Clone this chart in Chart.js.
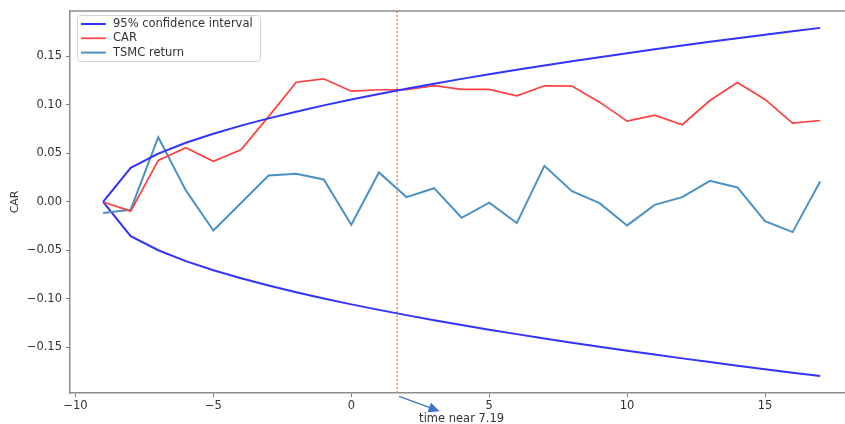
<!DOCTYPE html>
<html>
<head>
<meta charset="utf-8">
<script src="https://cdn.jsdelivr.net/npm/chart.js@4/dist/chart.umd.min.js"></script>
<style>
  html, body { margin: 0; padding: 0; background: #fff; }
  canvas { display: block; }
</style>
</head>
<body>
<canvas id="carChart" width="845" height="424"></canvas>
<script>
// event days
var days = [-9, -8, -7, -6, -5, -4, -3, -2, -1, 0, 1, 2, 3, 4, 5, 6, 7, 8, 9, 10, 11, 12, 13, 14, 15, 16, 17];
// 95% confidence band (upper, lower is the mirror)
var ciUpper = [0, 0.0352, 0.0498, 0.0610, 0.0704, 0.0787, 0.0862, 0.0931, 0.0996, 0.1056, 0.1113, 0.1167, 0.1219, 0.1269,
               0.1317, 0.1363, 0.1408, 0.1451, 0.1493, 0.1534, 0.1574, 0.1613, 0.1651, 0.1688, 0.1724, 0.1760, 0.1795];
var ciLower = [0, -0.0352, -0.0498, -0.0610, -0.0704, -0.0787, -0.0862, -0.0931, -0.0996, -0.1056, -0.1113, -0.1167, -0.1219, -0.1269,
               -0.1317, -0.1363, -0.1408, -0.1451, -0.1493, -0.1534, -0.1574, -0.1613, -0.1651, -0.1688, -0.1724, -0.1760, -0.1795];
// cumulative abnormal return
var car = [0, -0.0095, 0.0428, 0.0559, 0.042, 0.0538, 0.088, 0.1235, 0.127, 0.1142, 0.1157, 0.1157, 0.120, 0.116,
           0.116, 0.1095, 0.1198, 0.1195, 0.1029, 0.0833, 0.0895, 0.0796, 0.1046, 0.1232, 0.1057, 0.0812, 0.084];
// TSMC daily return
var tsmc = [-0.0115, -0.008, 0.0668, 0.0119, -0.0294, -0.001, 0.0273, 0.029, 0.0232, -0.0235, 0.0304, 0.005, 0.0142, -0.0163,
            -0.0008, -0.0218, 0.0373, 0.0111, -0.0012, -0.0242, -0.003, 0.005, 0.0218, 0.015, -0.0198, -0.0311, 0.0211];
// event marker
var eventDay = 1.66;
var yLimits = [-0.197, 0.197];
var xLimits = [-10.2, 17.9];

function pts(ys) {
  return days.map(function (d, i) { return { x: d, y: ys[i] }; });
}

function fmt(v, dec) {
  var s = dec ? v.toFixed(dec) : String(Math.round(v));
  if (parseFloat(s) === 0) s = dec ? (0).toFixed(dec) : '0';
  return s.replace('-', '\u2212');
}

var FONT = "'DejaVu Sans', sans-serif";
var TXT = '#333';

// legend, top border, axis label, annotation
var extras = {
  id: 'extras',
  afterDraw: function (chart) {
    var c = chart.ctx, a = chart.chartArea;
    var xs = chart.scales.x, ys = chart.scales.y;
    c.save();
    // top spine
    c.strokeStyle = '#8c8c8c';
    c.lineWidth = 1.5;
    c.beginPath();
    c.moveTo(a.left, a.top);
    c.lineTo(a.right, a.top);
    c.stroke();

    // legend box
    c.fillStyle = 'rgba(255,255,255,0.85)';
    c.strokeStyle = '#d4d4d4';
    c.lineWidth = 1;
    c.beginPath();
    c.roundRect(77.5, 15.5, 183, 46, 3);
    c.fill();
    c.stroke();
    var items = chart.data.datasets.filter(function (d) { return d.inLegend; });
    c.font = '11.5px ' + FONT;
    c.textBaseline = 'middle';
    c.textAlign = 'left';
    items.forEach(function (d, i) {
      var y = 24 + i * 14.3;
      c.strokeStyle = d.borderColor;
      c.lineWidth = d.borderWidth;
      c.beginPath();
      c.moveTo(81, y);
      c.lineTo(106, y);
      c.stroke();
      c.fillStyle = TXT;
      c.fillText(d.label, 113, y);
    });

    // y axis title
    c.save();
    c.translate(15, (a.top + a.bottom) / 2);
    c.rotate(-Math.PI / 2);
    c.textAlign = 'center';
    c.fillStyle = TXT;
    c.font = '11px ' + FONT;
    c.fillText('CAR', 0, 0);
    c.restore();

    // annotation arrow
    var x0 = xs.getPixelForValue(eventDay) + 2, y0 = ys.getPixelForValue(-0.2005);
    var x1 = xs.getPixelForValue(3.2), y1 = ys.getPixelForValue(-0.2158);
    var ang = Math.atan2(y1 - y0, x1 - x0);
    c.strokeStyle = '#3f72c8';
    c.fillStyle = '#3f72c8';
    c.lineWidth = 1.3;
    c.beginPath();
    c.moveTo(x0, y0);
    c.lineTo(x1 - 8 * Math.cos(ang), y1 - 8 * Math.sin(ang));
    c.stroke();
    c.beginPath();
    c.moveTo(x1, y1);
    c.lineTo(x1 - 11 * Math.cos(ang) + 5 * Math.sin(ang), y1 - 11 * Math.sin(ang) - 5 * Math.cos(ang));
    c.lineTo(x1 - 11 * Math.cos(ang) - 5 * Math.sin(ang), y1 - 11 * Math.sin(ang) + 5 * Math.cos(ang));
    c.closePath();
    c.fill();
    c.fillStyle = TXT;
    c.textAlign = 'center';
    c.textBaseline = 'middle';
    c.font = '11.5px ' + FONT;
    c.fillText('time near 7.19', xs.getPixelForValue(4.0), ys.getPixelForValue(-0.2235));
    c.restore();
  }
};

new Chart(document.getElementById('carChart'), {
  type: 'line',
  data: {
    datasets: [
      { label: '95% confidence interval', data: pts(ciUpper), borderColor: '#3333ff', borderWidth: 2, inLegend: true },
      { label: 'CAR', data: pts(car), borderColor: '#ff3f3f', borderWidth: 1.7, inLegend: true },
      { label: 'TSMC return', data: pts(tsmc), borderColor: '#4a92c6', borderWidth: 2, inLegend: true },
      { label: 'lower', data: pts(ciLower), borderColor: '#3333ff', borderWidth: 2 },
      { label: 'event', data: [{ x: eventDay, y: yLimits[0] }, { x: eventDay, y: yLimits[1] }],
        borderColor: '#f0873a', borderWidth: 1.5, borderDash: [2, 2] }
    ]
  },
  options: {
    responsive: false,
    animation: false,
    events: [],
    elements: { point: { radius: 0 }, line: { tension: 0 } },
    layout: { padding: { top: 10, left: 0, right: 0, bottom: 0 } },
    plugins: { legend: { display: false }, tooltip: { enabled: false } },
    scales: {
      x: {
        type: 'linear',
        min: xLimits[0],
        max: xLimits[1],
        afterFit: function (s) { s.height = 31; },
        border: { display: true, color: '#8c8c8c', width: 1.5 },
        grid: { drawOnChartArea: false, drawTicks: true, tickLength: 4, color: '#777' },
        ticks: {
          stepSize: 5, includeBounds: false, maxRotation: 0, padding: 2,
          color: TXT, font: { family: FONT, size: 11.5 },
          callback: function (v) { return fmt(v, 0); }
        }
      },
      y: {
        min: yLimits[0],
        max: yLimits[1],
        afterFit: function (s) { s.width = 70; },
        border: { display: true, color: '#8c8c8c', width: 1.5 },
        grid: { drawOnChartArea: false, drawTicks: true, tickLength: 4, color: '#777' },
        ticks: {
          stepSize: 0.05, includeBounds: false, padding: 4,
          color: TXT, font: { family: FONT, size: 11.5 },
          callback: function (v) { return fmt(v, 2); }
        }
      }
    }
  },
  plugins: [extras]
});
</script>
</body>
</html>
